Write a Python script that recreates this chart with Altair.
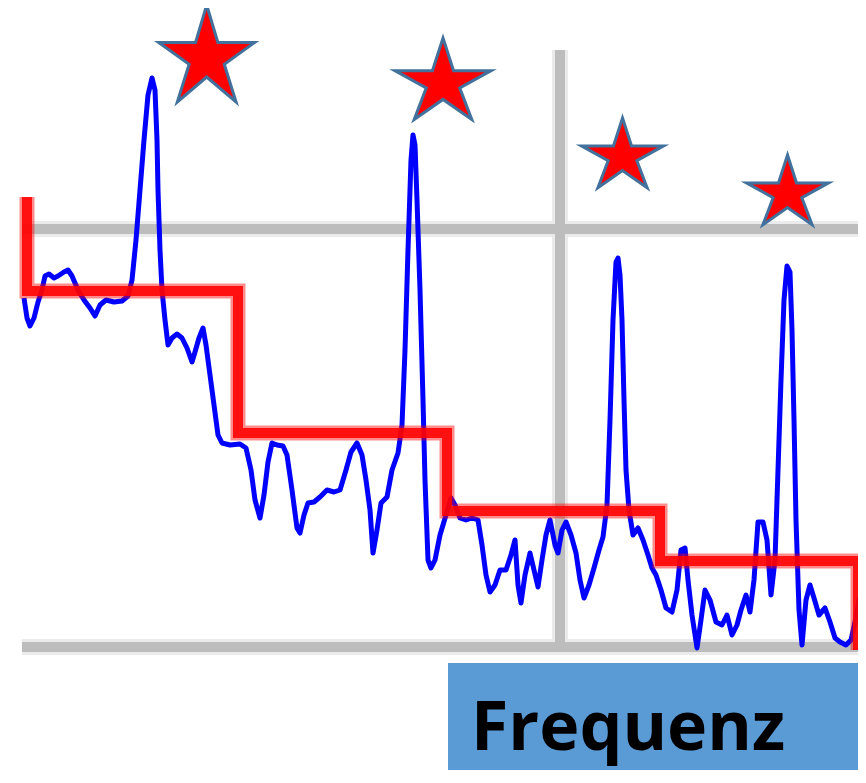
import altair as alt
import pandas as pd

# ---- Spektrum (blaue Linie): Frequenz / Pegel ----
spec_f = [2, 5, 8, 12, 16, 20, 23, 27, 32, 36, 42, 46, 50, 56, 62, 68, 73, 78, 84, 92,
          100, 106, 110, 114, 118, 122, 126, 130, 133, 135, 136, 138, 140, 143, 146, 150,
          155, 160, 165, 170, 173, 177, 181, 184, 188, 192, 196, 200, 208, 218, 224, 229,
          233, 238, 242, 246, 250, 255, 261, 265, 270, 275, 278, 282, 286, 292, 298, 305,
          312, 318, 324, 329, 335, 340, 344, 348, 351, 355, 359, 365, 370, 376, 380, 383,
          386, 389, 391, 393, 395, 398, 401, 403, 406, 409, 413, 418, 424, 429, 433, 438,
          444, 450, 456, 460, 464, 468, 473, 478, 484, 489, 493, 496, 499, 503, 508, 512,
          516, 520, 524, 528, 533, 536, 540, 544, 549, 554, 558, 562, 567, 572, 577, 581,
          585, 588, 591, 594, 596, 598, 600, 602, 604, 607, 611, 616, 621, 626, 630, 634,
          639, 644, 650, 655, 659, 663, 666, 670, 675, 679, 683, 688, 694, 700, 705, 710,
          715, 719, 724, 728, 732, 736, 741, 745, 749, 753, 756, 759, 762, 765, 768, 770,
          772, 774, 777, 780, 784, 788, 792, 797, 803, 808, 813, 818, 824, 829, 833, 837, 840]
spec_a = [349, 329, 321, 329, 345, 357, 371, 373, 369, 371, 375, 377, 371, 357, 347, 339,
          331, 342, 347, 345, 346, 351, 367, 407, 457, 507, 552, 569, 557, 507, 457, 397,
          357, 327, 302, 309, 313, 309, 299, 285, 295, 309, 319, 302, 272, 242, 212, 204,
          202, 203, 199, 177, 147, 129, 152, 185, 204, 202, 201, 192, 157, 119, 114, 132,
          144, 145, 150, 157, 155, 157, 177, 195, 204, 192, 167, 137, 94, 117, 144, 150,
          177, 194, 222, 297, 397, 487, 512, 502, 447, 357, 247, 167, 87, 79, 87, 112,
          132, 149, 142, 129, 127, 129, 127, 102, 72, 55, 62, 77, 77, 92, 107, 62, 44, 72,
          94, 77, 60, 87, 112, 127, 102, 94, 117, 125, 112, 94, 67, 49, 62, 79, 97, 110,
          142, 227, 327, 385, 389, 372, 327, 247, 177, 137, 112, 119, 107, 92, 79, 72,
          57, 39, 35, 57, 97, 99, 67, 32, -1, 27, 57, 47, 25, 22, 32, 12, 22, 37, 52, 35,
          67, 125, 125, 107, 52, 87, 177, 267, 347, 381, 375, 317, 227, 127, 37, 2, 47,
          62, 49, 32, 39, 25, 9, 5, 2, 7, 25, 47, 57]

# ---- Stufenlinie (rot) ----
step_f = [5, 5, 216, 216, 425, 425, 638, 638, 836, 836]
step_a = [450, 356, 356, 214, 214, 136, 136, 86, 86, -3]

# ---- Sterne ----
star_f = [184.7, 421, 600.5, 765.5]
star_a = [593.5, 568.2, 494.1, 457.1]
star_form = ["hoch", "flach", "flach", "flach"]
star_size = [9216, 9216, 6724, 6724]

# ---- Gitterlinien ----
grid_x = [0, 538, 0]
grid_x2 = [836, 538, 836]
grid_y = [418, -5, 0]
grid_y2 = [418, 597, 0]

# ---- Beschriftungsfeld ----
box_x = [426]
box_x2 = [836]
box_y = [-16]
box_y2 = [-140]
label_text = ["Frequenz"]
label_f = [449]
label_a = [-103]

XS = alt.Scale(domain=[-14, 836], nice=False, zero=False)
YS = alt.Scale(domain=[-123, 639], nice=False, zero=False)

spec = pd.DataFrame({"f": spec_f, "a": spec_a, "i": range(len(spec_f))})
steps = pd.DataFrame({"f": step_f, "a": step_a, "i": range(len(step_f))})
stars = pd.DataFrame({"f": star_f, "a": star_a, "form": star_form, "s": star_size})
grid = pd.DataFrame({"x": grid_x, "x2": grid_x2, "y": grid_y, "y2": grid_y2})
box = pd.DataFrame({"x": box_x, "x2": box_x2, "y": box_y, "y2": box_y2})
label = pd.DataFrame({"f": label_f, "a": label_a, "t": label_text})

tall = "M0,-1.01L0.232,-0.23L1,-0.23L0.366,0.224L0.612,1.01L0,0.49L-0.612,1.01L-0.366,0.224L-1,-0.23L-0.232,-0.23Z"
flat = "M0,-0.85L0.22,-0.17L1,-0.17L0.35,0.19L0.6,0.85L0,0.43L-0.6,0.85L-0.35,0.19L-1,-0.17L-0.22,-0.17Z"

box_layer = alt.Chart(box).mark_rect(color="#5B9BD5", clip=True).encode(
    x=alt.X("x:Q", scale=XS, axis=None), x2="x2:Q",
    y=alt.Y("y:Q", scale=YS, axis=None), y2="y2:Q")

grid_halo = alt.Chart(grid).mark_rule(color="#EBEBEB", strokeWidth=16, strokeCap="butt").encode(
    x=alt.X("x:Q", scale=XS, axis=None), x2="x2:Q",
    y=alt.Y("y:Q", scale=YS, axis=None), y2="y2:Q")
grid_core = alt.Chart(grid).mark_rule(color="#BDBDBD", strokeWidth=10, strokeCap="butt").encode(
    x=alt.X("x:Q", scale=XS, axis=None), x2="x2:Q",
    y=alt.Y("y:Q", scale=YS, axis=None), y2="y2:Q")

blue = alt.Chart(spec).mark_line(color="#0000FF", strokeWidth=5, strokeJoin="round", clip=True).encode(
    x=alt.X("f:Q", scale=XS, axis=None),
    y=alt.Y("a:Q", scale=YS, axis=None),
    order="i:Q")

red_soft = alt.Chart(steps).mark_line(color="#FF0000", strokeWidth=15, opacity=0.45,
                                      strokeJoin="miter", strokeCap="butt").encode(
    x=alt.X("f:Q", scale=XS, axis=None),
    y=alt.Y("a:Q", scale=YS, axis=None),
    order="i:Q")
red_core = alt.Chart(steps).mark_line(color="#FF0000", strokeWidth=10, opacity=0.88,
                                      strokeJoin="miter", strokeCap="butt").encode(
    x=alt.X("f:Q", scale=XS, axis=None),
    y=alt.Y("a:Q", scale=YS, axis=None),
    order="i:Q")

star_layer = alt.Chart(stars).mark_point(filled=True, fill="#FF0000", stroke="#41719C",
                                         strokeWidth=3, opacity=1).encode(
    x=alt.X("f:Q", scale=XS, axis=None),
    y=alt.Y("a:Q", scale=YS, axis=None),
    shape=alt.Shape("form:N", scale=alt.Scale(domain=["hoch", "flach"], range=[tall, flat]), legend=None),
    size=alt.Size("s:Q", scale=None, legend=None))

text_layer = alt.Chart(label).mark_text(font="Open Sans", fontWeight="bold", fontSize=68,
                                        align="left", baseline="alphabetic", color="#000000").encode(
    x=alt.X("f:Q", scale=XS, axis=None),
    y=alt.Y("a:Q", scale=YS, axis=None),
    text="t:N")

chart = alt.layer(box_layer, grid_halo, grid_core, blue, red_soft, red_core, star_layer, text_layer).properties(
    width=850, height=762, padding=0, autosize="none", background="white"
).configure_view(stroke=None)

chart.save("out.html", embed_options={"renderer": "svg", "actions": False})
